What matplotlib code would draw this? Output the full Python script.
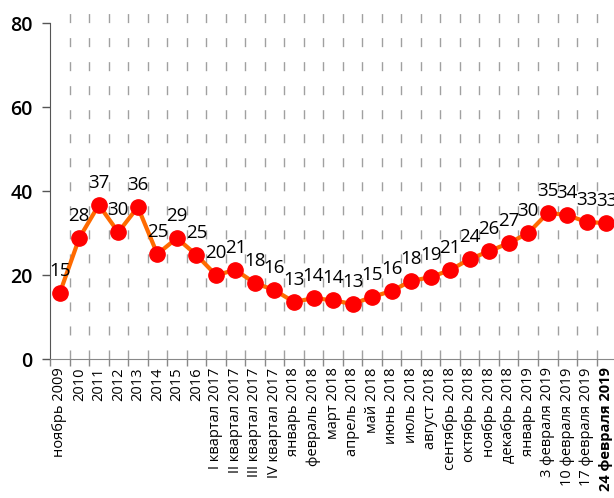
import matplotlib
matplotlib.use("Agg")
import matplotlib.pyplot as plt

plt.rcParams['font.family'] = ['Open Sans', 'DejaVu Sans']

# categories along the x axis
categories = [
    "ноябрь 2009", "2010", "2011", "2012", "2013", "2014", "2015", "2016",
    "I квартал 2017", "II квартал 2017", "III квартал 2017", "IV квартал 2017",
    "январь 2018", "февраль 2018", "март 2018", "апрель 2018", "май 2018",
    "июнь 2018", "июль 2018", "август 2018", "сентябрь 2018", "октябрь 2018",
    "ноябрь 2018", "декабрь 2018", "январь 2019", "3 февраля 2019",
    "10 февраля 2019", "17 февраля 2019", "24 февраля 2019",
]
# values
values = [
    15.7, 28.8, 36.7, 30.2, 36.2, 25.0, 28.8, 24.8,
    20.0, 21.2, 18.1, 16.4,
    13.6, 14.5, 14.0, 13.1, 14.8, 16.2, 18.6, 19.5, 21.2, 23.8,
    25.7, 27.6, 30.0, 34.8, 34.3, 32.6, 32.4,
]
# data labels as printed on the chart
labels = [
    15, 28, 37, 30, 36, 25, 29, 25,
    20, 21, 18, 16,
    13, 14, 14, 13, 15, 16, 18, 19, 21, 24,
    26, 27, 30, 35, 34, 33, 33,
]
y_ticks = [0, 20, 40, 60, 80]

fig = plt.figure(figsize=(6.14, 4.98), dpi=100)
ax = fig.add_axes([0.0814, 0.279, 0.922, 0.721])

x = list(range(len(categories)))
n = len(categories)

# dashed vertical gridlines on category boundaries
for k in range(n):
    gl, = ax.plot([k + 0.5, k + 0.5], [0, 86], color="#a0a0a0", lw=1.0,
                  dashes=(6.5, 10.8), dash_capstyle="butt", zorder=1)
    gl.set_clip_on(False)

ax.plot(x, values, color="#ff6a00", lw=3.0, zorder=2, solid_capstyle="round")
ax.plot(x, values, linestyle="none", marker="o", markersize=11,
        markerfacecolor="#ff0000", markeredgecolor="#ff0000", zorder=3)

for xi, v, lab in zip(x, values, labels):
    ax.annotate(str(lab), (xi, v), xytext=(0, 12.5), textcoords="offset points",
                ha="center", va="baseline", fontsize=13.5, color="black",
                annotation_clip=False, zorder=4)

ax.set_xlim(-0.5, n - 0.5)
ax.set_ylim(0, 85.5)

ax.set_yticks(y_ticks)
ax.set_yticklabels([str(t) for t in y_ticks], fontsize=14, fontweight="semibold")
ax.tick_params(axis="y", direction="out", length=5.5, width=1, color="#555555", pad=7)

ax.set_xticks(x)
ax.set_xticklabels(categories, rotation=90, fontsize=10.5, va="top", ha="center")
for lbl in ax.get_xticklabels()[-1:]:
    lbl.set_fontweight("bold")
ax.tick_params(axis="x", which="major", length=0, pad=6)
ax.set_xticks([k - 0.5 for k in range(n + 1)], minor=True)
ax.tick_params(axis="x", which="minor", direction="out", length=5, width=1, color="#888888")

ax.spines["top"].set_visible(False)
ax.spines["right"].set_visible(False)
ax.spines["left"].set_color("#555555")
ax.spines["left"].set_bounds(0, 80)
ax.spines["bottom"].set_color("#888888")

fig.savefig("out.png", dpi=100)
